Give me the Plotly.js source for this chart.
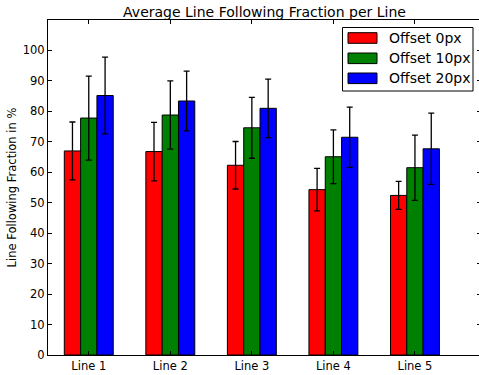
<!DOCTYPE html>
<html>
<head>
<meta charset="utf-8">
<script src="https://cdn.plot.ly/plotly-3.0.1.min.js"></script>
<style>html,body{margin:0;padding:0;overflow:hidden;background:#fff;}</style>
</head>
<body>
<div id="chart"></div>
<script>
// ---- data ----
var categories = ["Line 1", "Line 2", "Line 3", "Line 4", "Line 5"];
var seriesNames = ["Offset 0px", "Offset 10px", "Offset 20px"];
var offset0 = [67.0, 66.8, 62.3, 54.3, 52.4];
var offset0Err = [9.5, 9.6, 7.8, 7.0, 4.6];
var offset10 = [77.8, 78.8, 74.6, 65.1, 61.5];
var offset10Err = [13.8, 11.2, 10.0, 8.8, 10.7];
var offset20 = [85.2, 83.4, 81.0, 71.5, 67.7];
var offset20Err = [12.6, 9.8, 9.6, 9.9, 11.7];
var yTicks = [0, 10, 20, 30, 40, 50, 60, 70, 80, 90, 100];

// ---- styles ----
var colors = ["#ff0000", "#008000", "#0000ff"];
var values = [offset0, offset10, offset20];
var errs = [offset0Err, offset10Err, offset20Err];
var FONT = "DejaVu Sans, Liberation Sans, sans-serif";

var W = 482, H = 375;
var mL = 48, mR = 1, mT = 20, mB = 20;
var pw = W - mL - mR, ph = H - mT - mB;
function px2x(px) { return (px - mL) / pw; }
function py2y(py) { return 1 - (py - mT) / ph; }

var traces = values.map(function (v, i) {
  return {
    type: "bar",
    name: seriesNames[i],
    x: categories,
    y: v,
    marker: { color: colors[i], line: { color: "#000", width: 1 } },
    error_y: { type: "data", array: errs[i], visible: true, color: "#000", thickness: 1.3, width: 3 },
    showlegend: false
  };
});

// custom legend (matplotlib-like wide patches)
var shapes = [{
  type: "rect", xref: "paper", yref: "paper",
  x0: px2x(342.5), x1: px2x(473), y0: py2y(91), y1: py2y(27.5),
  line: { color: "#000", width: 1 }, fillcolor: "#fff", layer: "above"
}];
var annotations = [];
var rowY = [38, 58.3, 78.3];
seriesNames.forEach(function (n, i) {
  shapes.push({
    type: "rect", xref: "paper", yref: "paper",
    x0: px2x(348), x1: px2x(377), y0: py2y(rowY[i] + 5.3), y1: py2y(rowY[i] - 5.3),
    line: { color: "#000", width: 1 }, fillcolor: colors[i], layer: "above"
  });
  annotations.push({
    xref: "paper", yref: "paper", x: px2x(386.5), y: py2y(rowY[i]),
    xanchor: "left", yanchor: "middle", showarrow: false,
    text: n, font: { family: FONT, size: 14, color: "#000" }
  });
});

var layout = {
  width: W, height: H,
  margin: { l: mL, r: mR, t: mT, b: mB, pad: 0 },
  paper_bgcolor: "#fff", plot_bgcolor: "#fff",
  font: { family: FONT, size: 11, color: "#000" },
  title: { text: "Average Line Following Fraction per Line", font: { family: FONT, size: 14, color: "#000" },
           x: 0.5, xref: "paper", y: 1 - 12 / H, yanchor: "middle" },
  barmode: "group", bargap: 0.4, bargroupgap: 0,
  xaxis: {
    type: "category", range: [-0.5, 4.81],
    showline: true, linecolor: "#000", linewidth: 1, mirror: "ticks",
    ticks: "inside", ticklen: 4, tickcolor: "#000", tickwidth: 1,
    showgrid: false, zeroline: false, tickfont: { family: FONT, size: 11.5, color: "#000" }
  },
  yaxis: {
    range: [0, 110], tickvals: yTicks, ticktext: yTicks.map(String),
    showline: true, linecolor: "#000", linewidth: 1, mirror: "ticks",
    ticks: "inside", ticklen: 4, tickcolor: "#000", tickwidth: 1,
    showgrid: false, zeroline: false, tickfont: { family: FONT, size: 11.5, color: "#000" },
    title: { text: "Line Following Fraction in %", font: { family: FONT, size: 11.5, color: "#000" }, standoff: 3 }
  },
  shapes: shapes,
  annotations: annotations
};

Plotly.newPlot("chart", traces, layout, { displayModeBar: false, staticPlot: true });
</script>
</body>
</html>
